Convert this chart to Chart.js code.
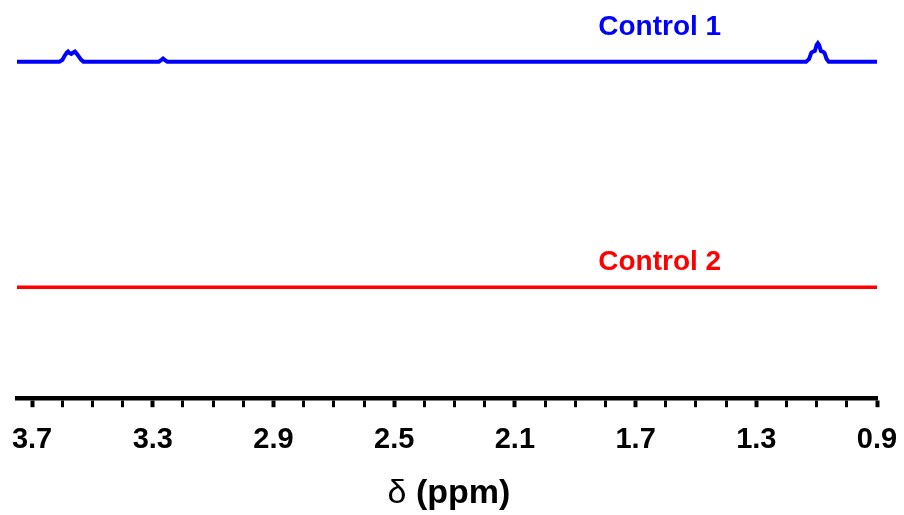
<!DOCTYPE html>
<html>
<head>
<meta charset="utf-8">
<script src="https://cdn.jsdelivr.net/npm/chart.js@4.4.0/dist/chart.umd.min.js"></script>
<style>
  html, body { margin: 0; padding: 0; background: #fff; }
  #wrap { width: 904px; height: 515px; position: relative; }
</style>
</head>
<body>
<div id="wrap"><canvas id="c" width="904" height="515"></canvas></div>
<script>
// ---- data (chemical shift in ppm, intensity in arbitrary units) ----
const control1Shift = [3.75, 3.610, 3.600, 3.593, 3.585, 3.581, 3.577, 3.570, 3.562, 3.558, 3.553, 3.545, 3.538, 3.530,
                       3.280, 3.270, 3.266, 3.262, 3.252,
                       1.135, 1.125, 1.118, 1.112, 1.106, 1.100, 1.096, 1.092, 1.086, 1.080, 1.074, 1.067, 1.060, 0.90];
const control1Intensity = [100, 100, 100.5, 101.6, 102.7, 103.0, 102.6, 102.3, 102.8, 103.0, 102.5, 101.5, 100.6, 100,
                           100, 100.6, 100.9, 100.6, 100,
                           100, 100.8, 102.6, 103.0, 103.2, 105.0, 105.5, 105.0, 103.2, 103.0, 102.6, 100.8, 100, 100];
const control2Shift = [3.75, 0.90];
const control2Intensity = [33, 33];
const seriesNames = ['Control 1', 'Control 2'];
const majorTicks = [3.7, 3.3, 2.9, 2.5, 2.1, 1.7, 1.3, 0.9];
const tickLabels = ['3.7', '3.3', '2.9', '2.5', '2.1', '1.7', '1.3', '0.9'];
const axisTitleSymbol = 'δ';
const axisTitleUnit = ' (ppm)';

const pts = (xs, ys) => xs.map((x, i) => ({ x: x, y: ys[i] }));

const labelPlugin = {
  id: 'nmrLabels',
  afterDraw(chart) {
    const ctx = chart.ctx;
    const xs = chart.scales.x, ys = chart.scales.y;
    ctx.save();
    ctx.textAlign = 'center';
    ctx.textBaseline = 'alphabetic';
    ctx.font = 'bold 28px "Liberation Sans", Arial, sans-serif';
    ctx.fillStyle = '#0000ff';
    ctx.fillText(seriesNames[0], xs.getPixelForValue(1.62), ys.getPixelForValue(107.8));
    ctx.fillStyle = '#ff0000';
    ctx.fillText(seriesNames[1], xs.getPixelForValue(1.62), ys.getPixelForValue(38.2));
    // axis title: regular delta + bold unit
    ctx.fillStyle = '#000';
    ctx.textAlign = 'left';
    const f1 = '34px "Liberation Sans", Arial, sans-serif';
    const f2 = 'bold 34px "Liberation Sans", Arial, sans-serif';
    ctx.font = f1; const w1 = ctx.measureText(axisTitleSymbol).width;
    ctx.font = f2; const w2 = ctx.measureText(axisTitleUnit).width;
    const cx = (xs.left + xs.right) / 2 + 2;
    const x0 = cx - (w1 + w2) / 2;
    const by = 503;
    ctx.font = f1; ctx.fillText(axisTitleSymbol, x0, by);
    ctx.font = f2; ctx.fillText(axisTitleUnit, x0 + w1, by);
    ctx.restore();
  }
};

new Chart(document.getElementById('c'), {
  type: 'line',
  data: {
    datasets: [
      { label: seriesNames[0], data: pts(control1Shift, control1Intensity), borderColor: '#0000ff',
        borderWidth: 4, pointRadius: 0, tension: 0, fill: false },
      { label: seriesNames[1], data: pts(control2Shift, control2Intensity), borderColor: '#ff0000',
        borderWidth: 3.5, pointRadius: 0, tension: 0, fill: false }
    ]
  },
  options: {
    responsive: false,
    animation: false,
    devicePixelRatio: 1,
    layout: { padding: { left: 17, right: 27, top: 28, bottom: 43 } },
    plugins: { legend: { display: false }, tooltip: { enabled: false } },
    scales: {
      x: {
        type: 'linear',
        reverse: true,
        min: 0.9,
        max: 3.75,
        afterBuildTicks(scale) {
          const t = [];
          for (let i = 9; i <= 37; i++) t.push({ value: i / 10 });
          scale.ticks = t;
        },
        border: { display: true, color: '#000', width: 4.5 },
        grid: {
          display: true,
          drawOnChartArea: false,
          drawTicks: true,
          tickLength: 9,
          tickColor: '#000',
          tickWidth: (c) => {
            const v = c.tick ? c.tick.value : 0;
            return majorTicks.some(m => Math.abs(m - v) < 1e-6) ? 4 : 3;
          }
        },
        ticks: {
          autoSkip: false,
          maxRotation: 0,
          padding: 15,
          color: '#000',
          font: { family: '"Liberation Sans", Arial, sans-serif', size: 29, weight: 'bold' },
          callback: (v) => {
            const i = majorTicks.findIndex(m => Math.abs(m - v) < 1e-6);
            return i >= 0 ? tickLabels[i] : '';
          }
        }
      },
      y: {
        display: false,
        min: 0,
        max: 110
      }
    }
  },
  plugins: [labelPlugin]
});
</script>
</body>
</html>
